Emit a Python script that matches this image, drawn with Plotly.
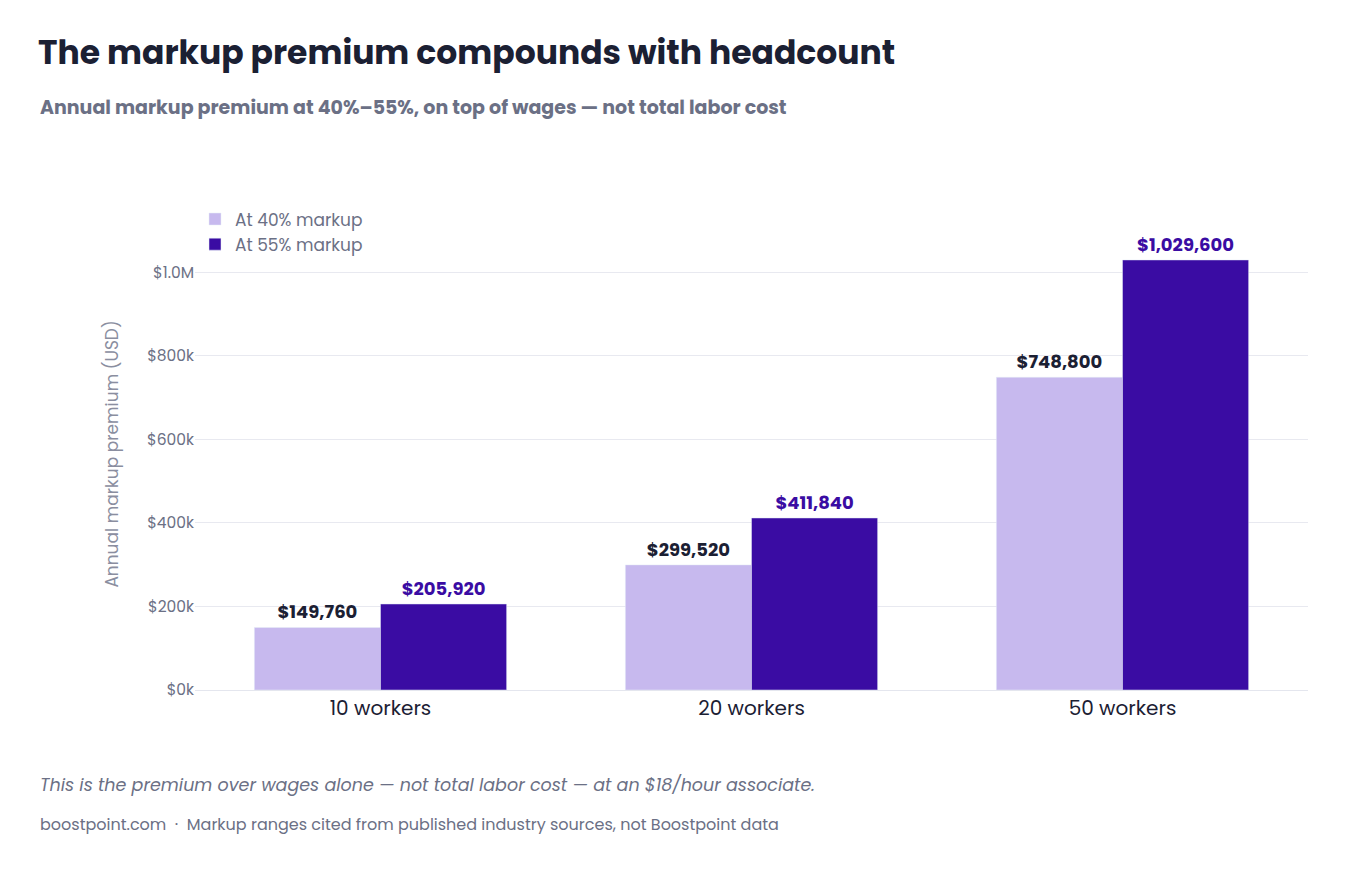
import plotly.graph_objects as go

categories = ["10 workers", "20 workers", "50 workers"]
markup_40 = [149760, 299520, 748800]
markup_55 = [205920, 411840, 1029600]
tick_vals = [0, 200000, 400000, 600000, 800000, 1000000]
tick_text = ["$0k", "$200k", "$400k", "$600k", "$800k", "$1.0M"]

FONT = "Poppins, Inter, Noto Sans, sans-serif"
LIGHT = "#C7B9EE"
DARK = "#3A0CA3"

fig = go.Figure()
fig.add_bar(
    x=categories, y=markup_40, name="At 40% markup", marker_color=LIGHT,
    text=[f"${v:,}" for v in markup_40], textposition="outside",
    textfont=dict(family=FONT, size=18, color="#1B2033", weight="bold"),
    cliponaxis=False,
)
fig.add_bar(
    x=categories, y=markup_55, name="At 55% markup", marker_color=DARK,
    text=[f"${v:,}" for v in markup_55], textposition="outside",
    textfont=dict(family=FONT, size=18, color=DARK, weight="bold"),
    cliponaxis=False,
)

fig.update_layout(
    width=1346, height=871,
    paper_bgcolor="white", plot_bgcolor="white",
    font=dict(family=FONT, color="#6B7085"),
    barmode="group", bargap=0.32, bargroupgap=0,
    margin=dict(l=187, r=46, t=210, b=189),
    title=dict(
        text="<b>The markup premium compounds with headcount</b>",
        x=30 / 1346, xanchor="left", y=1 - 44 / 871, yanchor="middle",
        font=dict(family=FONT, size=33, color="#1B2033"),
    ),
    legend=dict(
        x=0.0, y=1.035, xanchor="left", yanchor="top",
        font=dict(size=17, color="#6B7085"), bgcolor="rgba(0,0,0,0)",
        traceorder="normal", tracegroupgap=4,
    ),
    xaxis=dict(tickfont=dict(size=20, color="#1B2033"), showline=True,
               linecolor="#E4E6EE", ticks=""),
    yaxis=dict(
        range=[0, 1130000], tickvals=tick_vals, ticktext=tick_text,
        tickfont=dict(size=15.5, color="#6B7085"), gridcolor="#E8E9F0",
        zeroline=False,
        title=dict(text="Annual markup premium (USD)",
                   font=dict(size=17, color="#8A8EA0"), standoff=24),
    ),
)

fig.add_annotation(
    text="<b>Annual markup premium at 40%–55%, on top of wages — not total labor cost</b>",
    xref="paper", yref="paper", x=-157 / 1113, y=1 + (218 - 108) / 472,
    xanchor="left", yanchor="middle", showarrow=False,
    font=dict(family=FONT, size=19, color="#6B7085"),
)
fig.add_annotation(
    text="<i>This is the premium over wages alone — not total labor cost — at an $18/hour associate.</i>",
    xref="paper", yref="paper", x=-157 / 1113, y=-(785 - 690) / 472,
    xanchor="left", yanchor="middle", showarrow=False,
    font=dict(family=FONT, size=17.5, color="#6B7085"),
)
fig.add_annotation(
    text="boostpoint.com  ·  Markup ranges cited from published industry sources, not Boostpoint data",
    xref="paper", yref="paper", x=-157 / 1113, y=-(824 - 690) / 472,
    xanchor="left", yanchor="middle", showarrow=False,
    font=dict(family=FONT, size=16, color="#6B7085"),
)

fig.write_html("out.html")
